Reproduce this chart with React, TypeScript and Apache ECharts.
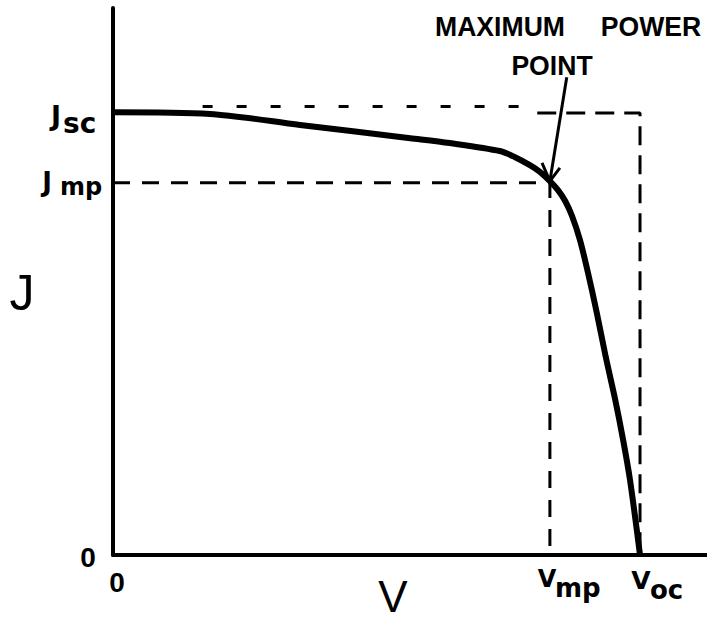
import React, { useEffect, useRef } from "react";
import * as echarts from "echarts";

// J–V curve of a solar cell (normalised units: Jsc = 1, Voc = 1)
const curveV = [0, 0.184, 0.355, 0.564, 0.639, 0.734, 0.763, 0.791, 0.81, 0.829, 0.844, 0.858, 0.871, 0.886, 0.901, 0.918, 0.935, 0.953, 0.968, 0.981, 1.0];
const curveJ = [1.002, 0.998, 0.973, 0.943, 0.932, 0.914, 0.9, 0.882, 0.867, 0.846, 0.826, 0.801, 0.767, 0.713, 0.64, 0.548, 0.448, 0.351, 0.26, 0.17, 0.0];

const Jsc = 1.0;
const JscDrawn = 1.015; // hand-drawn dashed guide sits slightly above Jsc on the left
const Jmp = 0.842;
const Vmp = 0.829;
const Voc = 1.0;
const mppJ = 0.846;

const arrowStart = [0.861, 1.081];
const arrowHeadV = [0.814, Vmp, 0.848];
const arrowHeadJ = [0.887, mppJ, 0.876];

const X_MAX = 1.1271;
const Y_MAX = 1.2376;

const BOLD = "'Liberation Sans', Arial, sans-serif";
const LETTER = "'DejaVu Sans', sans-serif";

export default function App() {
  const ref = useRef<HTMLDivElement>(null);
  useEffect(() => {
    document.body.style.margin = "0";
    const chart = echarts.init(ref.current!, null, { renderer: "svg" });
    const dashed = (data: number[][], type: number[], w = 3) => ({
      type: "line",
      data,
      symbol: "none",
      silent: true,
      z: 2,
      lineStyle: { color: "#000", width: w, type },
    });
    const txt = (text: string, x: number, y: number, size: number, opts: any = {}) => ({
      type: "text",
      x,
      y,
      scaleX: opts.scaleX ?? 1,
      style: {
        text,
        fontSize: size,
        fontWeight: opts.weight ?? "bold",
        fontFamily: opts.family ?? BOLD,
        fill: "#000",
        align: opts.align ?? "center",
        verticalAlign: "middle",
      },
    });
    chart.setOption({
      animation: false,
      backgroundColor: "#fff",
      grid: { left: 113, right: 0, top: 8, bottom: 65, containLabel: false },
      xAxis: {
        type: "value",
        min: 0,
        max: X_MAX,
        axisLine: { show: true, lineStyle: { color: "#000", width: 4 } },
        axisTick: { show: false },
        axisLabel: { show: false },
        splitLine: { show: false },
      },
      yAxis: {
        type: "value",
        min: 0,
        max: Y_MAX,
        axisLine: { show: true, lineStyle: { color: "#000", width: 4 } },
        axisTick: { show: false },
        axisLabel: { show: false },
        splitLine: { show: false },
      },
      series: [
        dashed([[0.17, JscDrawn], [0.8, JscDrawn]], [10, 24]),
        dashed([[0.805, Jsc], [Voc, Jsc], [Voc, 0]], [19, 10]),
        dashed([[0, Jmp], [Vmp, Jmp], [Vmp, 0]], [17, 12]),
        {
          type: "line",
          data: curveV.map((v, i) => [v, curveJ[i]]),
          symbol: "none",
          smooth: 0.3,
          z: 3,
          lineStyle: { color: "#000", width: 6 },
        },
        {
          type: "line",
          data: [arrowStart, [Vmp, mppJ]],
          symbol: "none",
          z: 4,
          lineStyle: { color: "#000", width: 3 },
        },
        {
          type: "line",
          data: arrowHeadV.map((v, i) => [v, arrowHeadJ[i]]),
          symbol: "none",
          z: 4,
          lineStyle: { color: "#000", width: 3 },
        },
      ],
      graphic: [
        txt("MAXIMUM", 500, 26, 28, { scaleX: 0.95 }),
        txt("POWER", 651, 26, 28, { scaleX: 0.95 }),
        txt("POINT", 552, 65, 28, { scaleX: 0.95 }),
        txt("J", 56, 115, 27, { family: LETTER }),
        txt("sc", 63, 123, 28, { family: LETTER, align: "left" }),
        txt("J", 47, 182, 26, { family: LETTER }),
        txt("mp", 60, 187, 24, { family: LETTER, align: "left" }),
        txt("J", 22, 293, 50, { weight: "normal" }),
        txt("0", 88, 557, 28),
        txt("0", 117, 582, 28),
        txt("V", 393, 596, 44, { weight: "normal" }),
        txt("V", 547, 579, 24, { family: LETTER }),
        txt("mp", 555, 588, 26, { family: LETTER, align: "left" }),
        txt("V", 641, 580, 25, { family: LETTER }),
        txt("oc", 650, 590, 26, { family: LETTER, align: "left" }),
      ],
    });
    return () => chart.dispose();
  }, []);
  return <div ref={ref} style={{ width: 707, height: 620 }} />;
}
